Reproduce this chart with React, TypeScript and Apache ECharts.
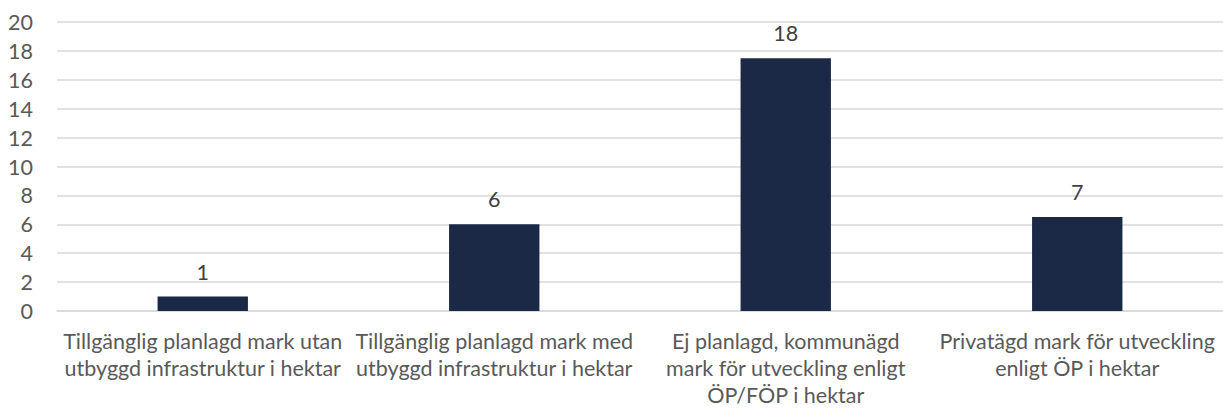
import React, { useEffect, useRef } from "react";
import * as echarts from "echarts";

const categories = [
  "Tillgänglig planlagd mark utan\nutbyggd infrastruktur i hektar",
  "Tillgänglig planlagd mark med\nutbyggd infrastruktur i hektar",
  "Ej planlagd, kommunägd\nmark för utveckling enligt\nÖP/FÖP i hektar",
  "Privatägd mark för utveckling\nenligt ÖP i hektar",
];
const values = [1, 6, 17.5, 6.5];
const yTicks = [0, 2, 4, 6, 8, 10, 12, 14, 16, 18, 20];

const FONT = "Lato, 'Open Sans', sans-serif";
const FS = 21.5;

export default function App() {
  const ref = useRef<HTMLDivElement>(null);
  useEffect(() => {
    document.body.style.margin = "0";
    const chart = echarts.init(ref.current!, null, { renderer: "svg" });
    chart.setOption({
      animation: false,
      grid: { left: 57, right: 0, top: 22, bottom: 99, containLabel: false },
      xAxis: {
        type: "category",
        data: categories,
        axisLine: { show: true, lineStyle: { color: "#d9d9d9", width: 1.5 } },
        axisTick: { show: false },
        axisLabel: {
          interval: 0,
          color: "#595959",
          fontSize: FS,
          fontFamily: FONT,
          margin: 16,
          lineHeight: 27,
          align: "center",
        },
      },
      yAxis: {
        type: "value",
        min: yTicks[0],
        max: yTicks[yTicks.length - 1],
        interval: 2,
        axisLine: { show: false },
        axisTick: { show: false },
        splitLine: { lineStyle: { color: "#d9d9d9", width: 1.5 } },
        axisLabel: {
          color: "#595959",
          fontSize: FS,
          fontFamily: FONT,
          margin: 24,
        },
      },
      series: [
        {
          type: "bar",
          data: values,
          barWidth: "31%",
          itemStyle: { color: "#1b2846" },
          label: {
            show: true,
            position: "top",
            distance: 14,
            color: "#404040",
            fontSize: FS,
            fontFamily: FONT,
            formatter: (p: any) => String(Math.round(p.value)),
          },
        },
      ],
    });
    return () => chart.dispose();
  }, []);
  return <div ref={ref} style={{ width: 1223, height: 410 }} />;
}
